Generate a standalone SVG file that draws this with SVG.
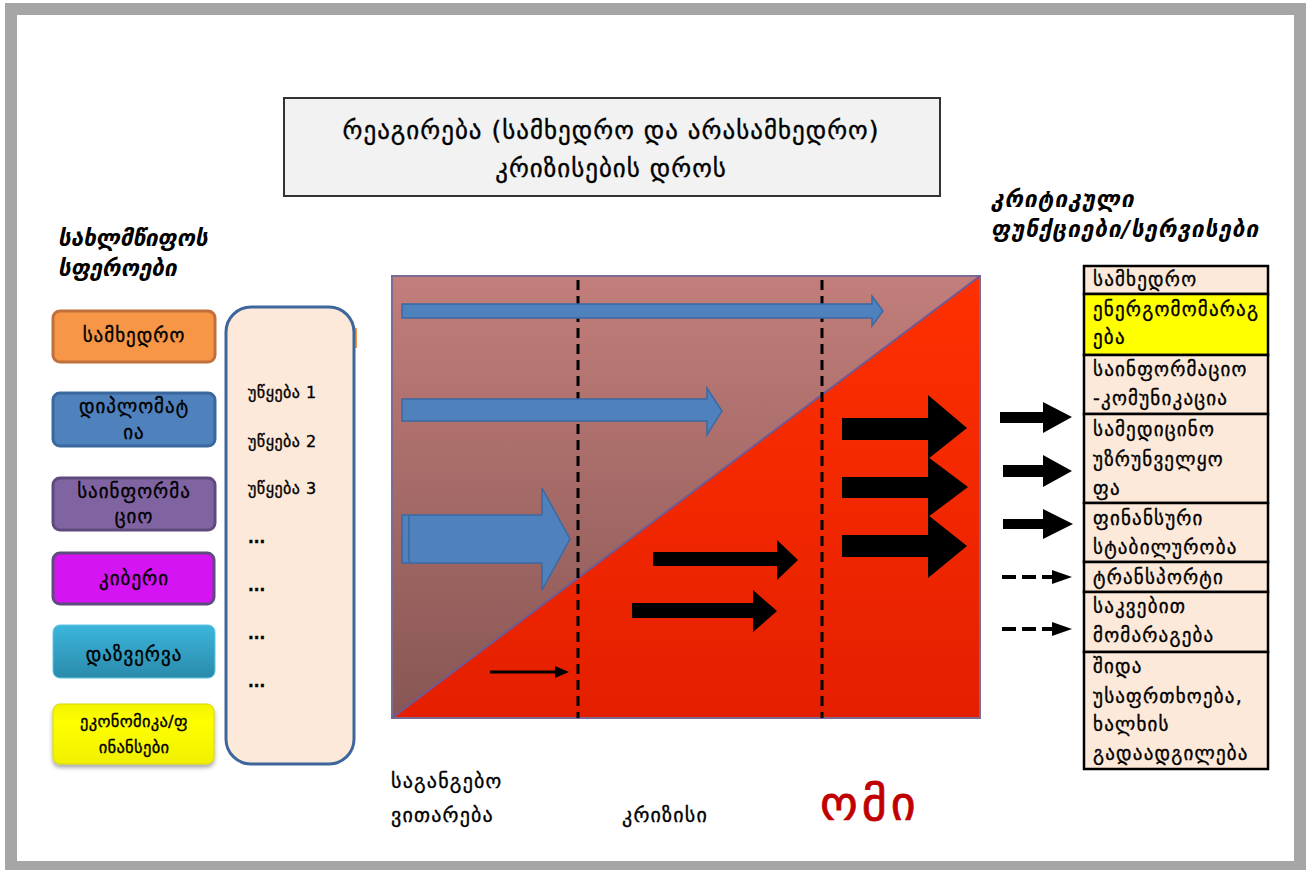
<svg xmlns="http://www.w3.org/2000/svg" width="1307" height="870" viewBox="0 0 1307 870">
<style>
.t{font-family:"DejaVu Sans",sans-serif;fill:#000;stroke:#000;stroke-width:0.35;}
.nt{font-size:19px;letter-spacing:1px;text-anchor:middle;}
.ag{font-size:16px;letter-spacing:0.5px;}
.ft{font-size:19px;letter-spacing:1.2px;}
.hd{font-size:22.5px;font-weight:bold;font-style:italic;stroke-width:0;}
.ph{font-size:20px;letter-spacing:1.2px;}
.node{stroke-width:3;}
.cell{fill:#fde9d9;stroke:#000;stroke-width:2.5;}
.ba{fill:#4f81bd;stroke:#3a6aa5;stroke-width:1.5;}
.ka{fill:#000;}
.dash{stroke:#000;stroke-width:3;stroke-dasharray:10 6;fill:none;}
</style>
<defs>
<linearGradient id="gUp" x1="0" y1="0" x2="0" y2="1">
<stop offset="0" stop-color="#c27e7a"/><stop offset="1" stop-color="#875654"/>
</linearGradient>
<linearGradient id="gRed" x1="0" y1="0" x2="0" y2="1">
<stop offset="0" stop-color="#ff3000"/><stop offset="1" stop-color="#e41f00"/>
</linearGradient>
<linearGradient id="gCyan" x1="0" y1="0" x2="0" y2="1">
<stop offset="0" stop-color="#3cb6dc"/><stop offset="1" stop-color="#2a8aab"/>
</linearGradient>
<linearGradient id="gYel" x1="0" y1="0" x2="0" y2="1">
<stop offset="0" stop-color="#f2f200"/><stop offset="0.3" stop-color="#ffff00"/><stop offset="1" stop-color="#f0f000"/>
</linearGradient>
<filter id="sh" x="-10%" y="-10%" width="120%" height="130%">
<feDropShadow dx="0" dy="3" stdDeviation="2" flood-color="#000" flood-opacity="0.35"/>
</filter>
</defs>
<rect x="0" y="0" width="1307" height="870" fill="#fff"/>
<rect x="11" y="9" width="1289" height="858" fill="none" stroke="#a6a6a6" stroke-width="12"/>

<g id="title">
<rect x="284" y="98" width="656" height="98" fill="#f2f2f2" stroke="#333" stroke-width="2"/>
<text class="t" x="611" y="139" font-size="25" letter-spacing="1" text-anchor="middle">რეაგირება (სამხედრო და არასამხედრო)</text>
<text class="t" x="611" y="177" font-size="25" letter-spacing="1" text-anchor="middle">კრიზისების დროს</text>
</g>

<g id="left-header">
<text class="t hd" x="58" y="246">სახლმწიფოს</text>
<text class="t hd" x="58" y="276">სფეროები</text>
</g>

<g id="n-military">
<rect class="node" x="53" y="311" width="162" height="51" rx="7" fill="#f79646" stroke="#c0703a"/>
<text class="t nt" x="134" y="342">სამხედრო</text>
</g>
<g id="n-diplomacy">
<rect class="node" x="53" y="393" width="162" height="53" rx="7" fill="#4f81bd" stroke="#3a679c"/>
<text class="t nt" x="134" y="413">დიპლომატ</text>
<text class="t nt" x="134" y="439">ია</text>
</g>
<g id="n-info">
<rect class="node" x="53" y="478" width="162" height="52" rx="7" fill="#8064a2" stroke="#5f4a7d"/>
<text class="t nt" x="134" y="498">საინფორმა</text>
<text class="t nt" x="134" y="523">ციო</text>
</g>
<g id="n-cyber">
<rect class="node" x="53" y="553" width="161" height="51" rx="7" fill="#d414f2" stroke="#5f4a7d"/>
<text class="t nt" x="134" y="585">კიბერი</text>
</g>
<g id="n-intel">
<rect x="53" y="625" width="162" height="53" rx="7" fill="url(#gCyan)" stroke="#5fc4e0" stroke-width="1"/>
<text class="t nt" x="134" y="661">დაზვერვა</text>
</g>
<g id="n-econ">
<rect x="53" y="704" width="161" height="60" rx="7" fill="url(#gYel)" stroke="#d8d800" stroke-width="1" filter="url(#sh)"/>
<text class="t" x="134" y="727" font-size="16.5" letter-spacing="0.3" text-anchor="middle">ეკონომიკა/ფ</text>
<text class="t" x="134" y="753" font-size="16.5" letter-spacing="0.3" text-anchor="middle">ინანსები</text>
</g>

<g id="agencies">
<rect x="355" y="328" width="2" height="20" fill="#f79646"/>
<rect x="226" y="307" width="128" height="457" rx="25" fill="#fde9d9" stroke="#3d679c" stroke-width="3"/>
<text class="t ag" x="248" y="398">უწყება 1</text>
<text class="t ag" x="248" y="447">უწყება 2</text>
<text class="t ag" x="248" y="494">უწყება 3</text>
<text class="t" x="248" y="543" font-size="15" font-weight="bold">...</text>
<text class="t" x="248" y="591" font-size="15" font-weight="bold">...</text>
<text class="t" x="248" y="639" font-size="15" font-weight="bold">...</text>
<text class="t" x="248" y="687" font-size="15" font-weight="bold">...</text>
</g>

<g id="chart">
<polygon points="392,276 980,276 392,718" fill="url(#gUp)"/>
<polygon points="980,276 980,718 392,718" fill="url(#gRed)"/>
<rect x="392" y="276" width="588" height="442" fill="none" stroke="#7a6a96" stroke-width="2"/>
<line x1="392" y1="718" x2="980" y2="276" stroke="#6e5a96" stroke-width="2"/>
</g>

<g id="connectors">
<line class="dash" x1="578" y1="280" x2="578" y2="718"/>
<line class="dash" x1="822" y1="280" x2="822" y2="718"/>
<polygon class="ba" points="402,304 872,304 872,296 883,311 872,326 872,318 402,318"/>
<polygon class="ba" points="402,399 707,399 707,388 722,411 707,435 707,421 402,421"/>
<polygon class="ba" points="402,515 542,515 542,488 570,539 542,590 542,563 402,563"/>
<line x1="409" y1="516" x2="409" y2="562" stroke="#3a6aa5" stroke-width="1.5"/>
<line x1="490" y1="672" x2="558" y2="672" stroke="#000" stroke-width="3"/>
<polygon class="ka" points="555,666 569,672 555,678"/>
<polygon class="ka" points="653,552 777,552 777,540 798,560 777,580 777,566 653,566"/>
<polygon class="ka" points="632,603 753,603 753,590 777,611 753,632 753,618 632,618"/>
<polygon class="ka" points="842,418 928,418 928,395 967,428 928,459 928,440 842,440"/>
<polygon class="ka" points="842,477 928,477 928,457 968,487 928,517 928,498 842,498"/>
<polygon class="ka" points="842,535 928,535 928,515 967,546 928,578 928,557 842,557"/>
<polygon class="ka" points="1000,412 1043,412 1043,402 1072,417 1043,433 1043,423 1000,423"/>
<polygon class="ka" points="1003,465 1043,465 1043,455 1072,471 1043,487 1043,477 1003,477"/>
<polygon class="ka" points="1003,519 1043,519 1043,509 1073,524 1043,539 1043,529 1003,529"/>
<line x1="1002" y1="577" x2="1056" y2="577" stroke="#000" stroke-width="4" stroke-dasharray="14 6"/>
<polygon class="ka" points="1052,570 1072,577 1052,584"/>
<line x1="1002" y1="629" x2="1056" y2="629" stroke="#000" stroke-width="4" stroke-dasharray="14 6"/>
<polygon class="ka" points="1052,622 1072,629 1052,636"/>
</g>

<g id="right-header">
<text class="t hd" x="991" y="207" letter-spacing="1">კრიტიკული</text>
<text class="t hd" x="991" y="237" letter-spacing="1">ფუნქციები/სერვისები</text>
</g>

<g id="functions">
<rect class="cell" x="1084" y="266" width="184" height="28"/>
<rect class="cell" x="1084" y="294" width="184" height="61" style="fill:#ffff00"/>
<rect class="cell" x="1084" y="355" width="184" height="59"/>
<rect class="cell" x="1084" y="414" width="184" height="89"/>
<rect class="cell" x="1084" y="503" width="184" height="59"/>
<rect class="cell" x="1084" y="562" width="184" height="30"/>
<rect class="cell" x="1084" y="592" width="184" height="60"/>
<rect class="cell" x="1084" y="652" width="184" height="117"/>
<text class="t ft" x="1093" y="286">სამხედრო</text>
<text class="t ft" x="1093" y="316">ენერგომომარაგ</text>
<text class="t ft" x="1093" y="344">ება</text>
<text class="t ft" x="1093" y="376">საინფორმაციო</text>
<text class="t ft" x="1093" y="405">-კომუნიკაცია</text>
<text class="t ft" x="1093" y="436">სამედიცინო</text>
<text class="t ft" x="1093" y="466">უზრუნველყო</text>
<text class="t ft" x="1093" y="495">ფა</text>
<text class="t ft" x="1093" y="525">ფინანსური</text>
<text class="t ft" x="1093" y="554">სტაბილურობა</text>
<text class="t ft" x="1093" y="584">ტრანსპორტი</text>
<text class="t ft" x="1093" y="613">საკვებით</text>
<text class="t ft" x="1093" y="642">მომარაგება</text>
<text class="t ft" x="1093" y="673">შიდა</text>
<text class="t ft" x="1093" y="703">უსაფრთხოება,</text>
<text class="t ft" x="1093" y="731">ხალხის</text>
<text class="t ft" x="1093" y="760">გადაადგილება</text>
</g>

<g id="phases">
<text class="t ph" x="391" y="788">საგანგებო</text>
<text class="t ph" x="391" y="822">ვითარება</text>
<text class="t ph" x="622" y="822">კრიზისი</text>
<text class="t" x="820" y="820" font-size="48" letter-spacing="4" style="fill:#c00000;stroke:#c00000;stroke-width:0.8">ომი</text>
</g>
</svg>
